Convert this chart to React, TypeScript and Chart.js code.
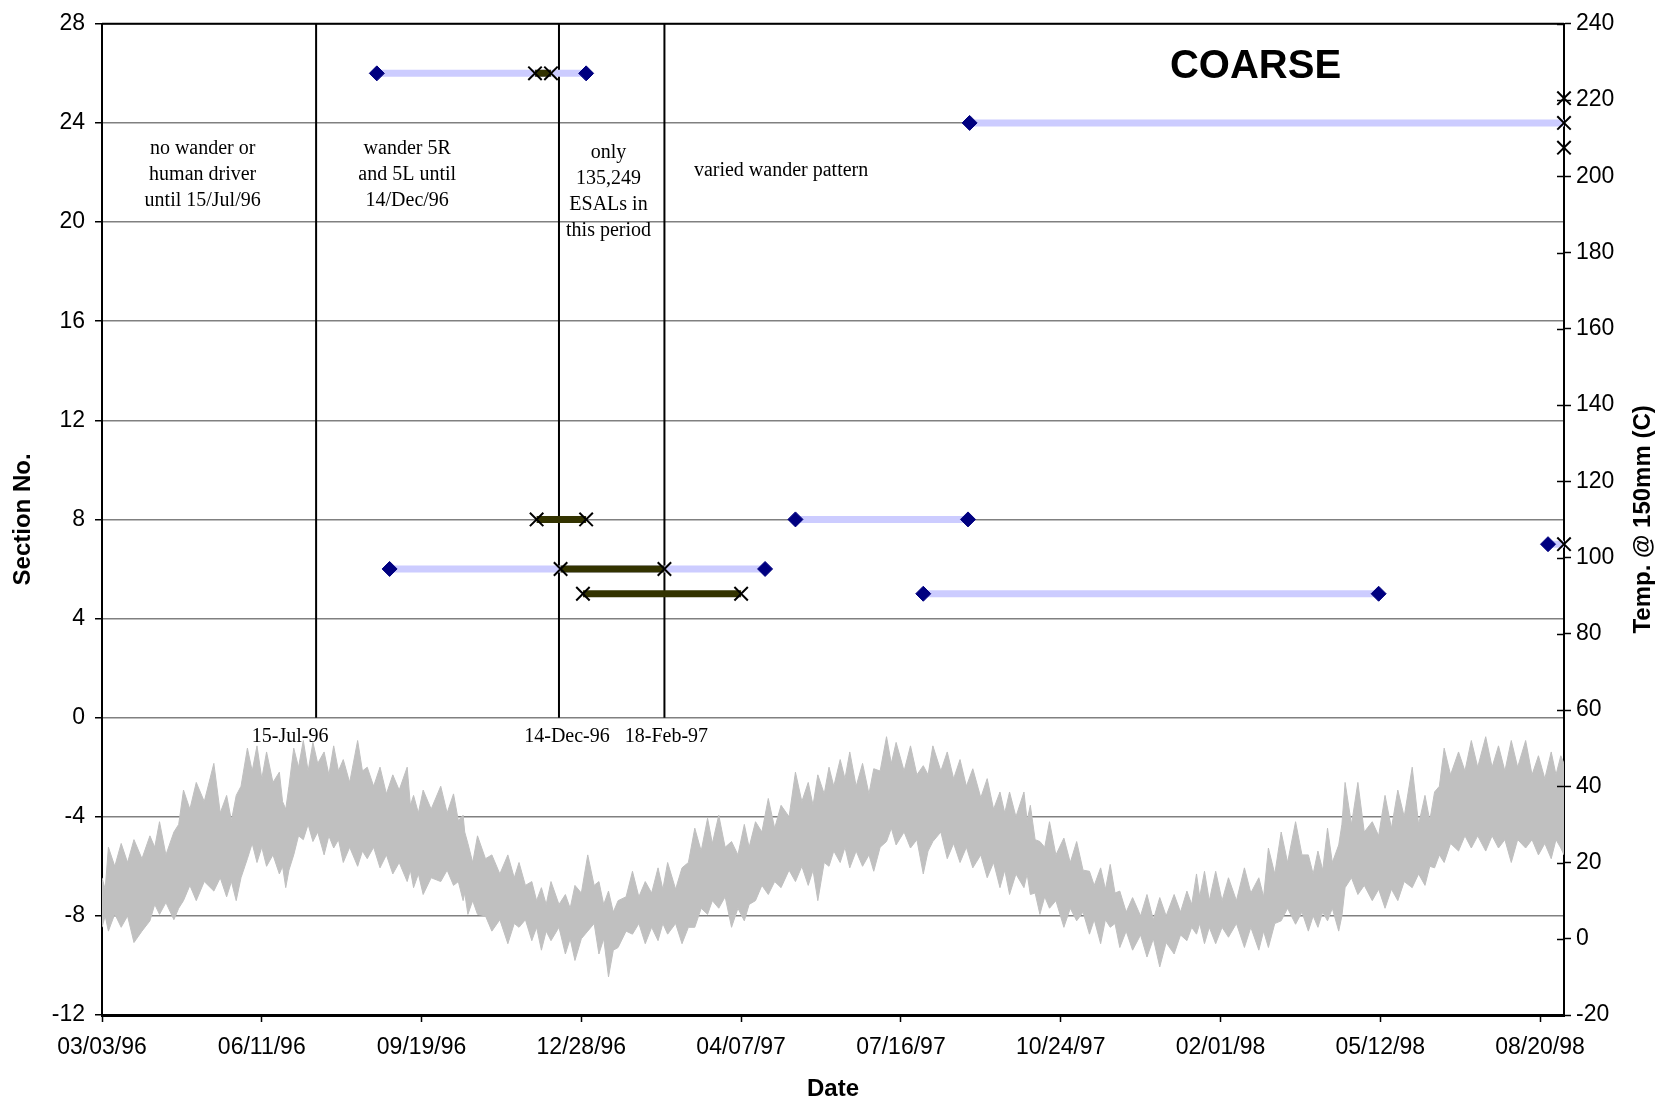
import React, { useEffect, useRef } from 'react';
import { Chart, registerables } from 'chart.js';

Chart.register(...registerables);

// ---------- DATA ----------
const START_DATE = '1996-03-03';
const END_DATE = '1998-09-04';

const xTickLabels = ['03/03/96', '06/11/96', '09/19/96', '12/28/96', '04/07/97', '07/16/97', '10/24/97', '02/01/98', '05/12/98', '08/20/98'];
const xTickStepDays = 100;

const sectionMin = -12;
const sectionMax = 28;
const sectionStep = 4;
const tempMin = -20;
const tempMax = 240;
const tempStep = 20;

// Wander periods (light blue bars)
const wanderSection = [26, 6, 8, 24, 5, 7];
const wanderStart = ['1996-08-22', '1996-08-30', '1997-05-11', '1997-08-28', '1997-07-30', '1998-08-25'];
const wanderEnd = ['1996-12-31', '1997-04-22', '1997-08-27', '1998-09-04', '1998-05-11', '1998-09-04'];

// No-wander periods (dark bars)
const fixedSection = [26, 8, 6, 5];
const fixedStart = ['1996-11-29', '1996-11-30', '1996-12-15', '1996-12-29'];
const fixedEnd = ['1996-12-09', '1996-12-31', '1997-02-18', '1997-04-07'];

// Diamond markers
const diamondSection = [26, 26, 6, 6, 8, 8, 24, 5, 5, 7];
const diamondDate = ['1996-08-22', '1996-12-31', '1996-08-30', '1997-04-22', '1997-05-11', '1997-08-27', '1997-08-28', '1997-07-30', '1998-05-11', '1998-08-25'];

// Cross markers
const crossSection = [26, 26, 8, 8, 6, 6, 5, 5, 25, 24, 23, 7];
const crossDate = ['1996-11-29', '1996-12-09', '1996-11-30', '1996-12-31', '1996-12-15', '1997-02-18', '1996-12-29', '1997-04-07', '1998-09-04', '1998-09-04', '1998-09-04', '1998-09-04'];

// Event lines
const eventDates = ['1996-07-15', '1996-12-14', '1997-02-18'];
const eventLabels = ['15-Jul-96', '14-Dec-96', '18-Feb-97'];

// Notes
const noteDates = ['1996-05-05', '1996-09-10', '1997-01-14', '1997-05-02'];
const noteSections = [22.94, 22.94, 22.78, 22.06];
const noteLines = [
  ['no wander or', 'human driver', 'until 15/Jul/96'],
  ['wander 5R', 'and 5L until', '14/Dec/96'],
  ['only', '135,249', 'ESALs in', 'this period'],
  ['varied wander pattern'],
];

const chartTitle = 'COARSE';
const xTitle = 'Date';
const yTitle = 'Section No.';
const y2Title = 'Temp. @ 150mm (C)';

// Temperature at 150 mm: upper / lower edge of the trace (days since 03/03/96)
const tempDay = [
  0, 2, 4, 8, 12, 16, 20, 25, 30, 33,
  36, 40, 45, 48, 51, 55, 59, 64, 70, 74,
  78, 81, 84, 87, 91, 94, 97, 100, 103, 107,
  111, 113, 115, 117, 120, 123, 126, 129, 132, 135,
  139, 142, 145, 148, 151, 155, 160, 163, 166, 170,
  174, 178, 182, 186, 191, 193, 195, 198, 201, 206,
  212, 216, 220, 223, 226, 227, 229, 232, 235, 240,
  244, 249, 254, 258, 261, 265, 269, 272, 275, 278,
  281, 286, 290, 293, 296, 300, 304, 308, 311, 314,
  317, 320, 323, 328, 332, 336, 340, 344, 348, 351,
  354, 359, 363, 367, 371, 375, 379, 382, 386, 390,
  394, 398, 402, 405, 409, 413, 417, 421, 425, 430,
  434, 438, 442, 445, 448, 452, 455, 458, 462, 465,
  468, 472, 476, 480, 483, 487, 491, 494, 497, 502,
  506, 510, 514, 517, 520, 525, 529, 533, 537, 541,
  545, 550, 554, 558, 562, 565, 568, 572, 577, 579,
  581, 584, 587, 590, 593, 597, 602, 606, 610, 614,
  618, 621, 625, 628, 631, 634, 637, 641, 645, 650,
  654, 658, 662, 666, 671, 675, 679, 682, 685, 687,
  690, 693, 697, 701, 705, 710, 715, 719, 724, 727,
  730, 734, 738, 742, 747, 751, 755, 758, 761, 764,
  767, 770, 774, 776, 778, 782, 786, 790, 795, 799,
  803, 807, 811, 815, 820, 824, 828, 831, 834, 837,
  840, 844, 849, 853, 857, 861, 866, 870, 874, 878,
  882, 886, 891, 895, 899, 903, 907, 910, 913, 915,
];
const tempHigh = [
  16, 13, 24, 19, 25, 20, 26, 21, 27, 24,
  30.7, 22, 28, 30, 39, 34, 41, 36, 46, 33,
  37.6, 31, 37.6, 40, 50, 44, 50.6, 42, 49, 41,
  43.7, 36, 34, 40, 50, 45, 52, 44, 51.5, 46,
  49, 43, 50.6, 44, 47, 41, 52, 44, 45, 40,
  45, 38, 43, 39, 45, 35, 37.6, 33, 39, 34,
  40, 33, 38, 31, 32.4, 28, 25, 20, 27, 21,
  22, 17, 22, 16, 20, 14, 15, 10, 13.4, 9,
  15, 9, 11.6, 8, 14, 12, 22, 14, 15, 9,
  12.5, 7, 10, 11, 17.7, 11, 15, 12, 18.6, 13,
  20, 13, 18.6, 20, 29, 23, 31.6, 25, 32.4, 24,
  25.5, 22, 30, 24, 30.7, 28, 36.8, 29, 35, 32,
  43.7, 36, 41, 35, 43, 38, 45, 40, 47, 42,
  49, 40, 46, 38, 44.6, 44, 53, 46, 51.5, 44,
  50.6, 43, 45.4, 43, 50.6, 44, 49, 42, 47, 40,
  44.6, 37, 42, 34, 38.5, 33, 38.5, 32, 38.5, 31,
  35, 26, 25.5, 24, 30.7, 22, 26.4, 20, 25.5, 18,
  17.7, 14, 18.6, 13, 19.5, 12, 12.5, 7, 10.8, 6,
  11.6, 5, 10.8, 6, 11.6, 7, 12.5, 9, 17, 11,
  17.7, 10, 17.7, 10, 16, 10, 18.6, 12, 16, 11,
  23.8, 17, 28, 20, 30.7, 22, 22, 17, 23, 18,
  29, 20, 24.6, 30, 41, 30, 41, 28, 30.7, 27,
  37.6, 29, 39, 32, 45, 30, 37.6, 31, 38.5, 40,
  50, 43, 49, 44, 52, 45, 53, 45, 50.6, 44,
  52, 45, 52, 43, 48, 42, 49, 43, 48, 46,
];
const tempLow = [
  3, 6, 2, 6.5, 3, 6, -1, 2, 4.7, 9,
  6.4, 9.5, 5, 8, 10, 14, 10, 15, 12.5, 16,
  11, 15, 10, 16, 21, 25, 20, 24, 19, 22,
  17, 19, 13.4, 18, 22, 27, 26, 30, 25.5, 28,
  22, 27, 23.8, 26, 20, 24, 19, 23, 21, 24,
  18.6, 22, 17, 20, 15, 18, 13.4, 17, 11.6, 16,
  15, 18, 14, 15, 10, 12, 6.4, 10, 6.4, 6,
  2, 5, -1.3, 4, 3, 5, -0.5, 3, -3, 2,
  -0.5, 3, -4, 0, -5.7, 0, 2, 4, -4, 0,
  -10, -3, -2.3, 2, 1.2, 4, -1.3, 3, -0.5, 4,
  1.2, 4, -1.3, 3, 3, 8, 6.4, 10, 8, 11,
  3, 8, 4.7, 9, 10, 14, 11.6, 15, 13.4, 18,
  15, 19, 14, 18, 10, 20, 19, 23, 20, 24,
  18.6, 23, 19, 22, 17.7, 24, 25.5, 29, 24.6, 28,
  23.8, 26, 17, 23, 25.5, 28, 21, 25, 20, 24,
  18.6, 22, 16, 20, 13.4, 18, 11.6, 17, 13.4, 17,
  11.6, 12, 6.4, 11, 8, 10, 3, 8, 4.7, 7,
  1.2, 5, -1.3, 5, 3, 4, -2.3, 2, -3, 1,
  -4.8, 0, -7.4, -1, -4, 1, -0.5, 3, 1.2, 4,
  -1.3, 3, -1.3, 3, 0.4, 4, -2.3, 3, -3, 2,
  -2.3, 4, 4.7, 8, 3.8, 7, 2, 6, 3, 7,
  4.7, 8, 2, 6, 13.4, 16, 11.6, 14, 10, 13,
  8, 13, 10, 15, 13.4, 17, 14, 19, 18.6, 22,
  20, 25, 23, 27, 23.8, 27, 23, 27, 23.8, 26,
  20, 26, 23.8, 26, 22, 25, 21, 26, 23.8, 22,
];

// ---------- HELPERS ----------
const MS_DAY = 86400000;
const toUTC = (s: string) => {
  const [y, m, d] = s.split('-').map(Number);
  return Date.UTC(y, m - 1, d);
};
const dayOf = (s: string) => Math.round((toUTC(s) - toUTC(START_DATE)) / MS_DAY);

const SERIF = '"Liberation Serif", "Times New Roman", serif';
const SANS = '"Liberation Sans", Arial, sans-serif';
const TICK_SIZE = 23;

const overlayPlugin = {
  id: 'overlay',
  afterDraw(chart: any) {
    const { ctx, chartArea, scales } = chart;
    const xs = scales.x;
    const ys = scales.y;
    const y2 = scales.y2;
    ctx.save();
    // top border
    ctx.strokeStyle = '#000';
    ctx.lineWidth = 2;
    ctx.beginPath();
    ctx.moveTo(chartArea.left, chartArea.top);
    ctx.lineTo(chartArea.right, chartArea.top);
    ctx.stroke();
    // inner ticks of right axis
    ctx.lineWidth = 1.5;
    y2.ticks.forEach((t: any) => {
      const py = Math.round(y2.getPixelForValue(t.value)) + 0.5;
      ctx.beginPath();
      ctx.moveTo(chartArea.right - 7, py);
      ctx.lineTo(chartArea.right, py);
      ctx.stroke();
    });

    ctx.fillStyle = '#000';
    ctx.textAlign = 'center';
    ctx.textBaseline = 'middle';
    // notes
    ctx.font = `20px ${SERIF}`;
    noteLines.forEach((lines, i) => {
      const px = xs.getPixelForValue(dayOf(noteDates[i]));
      const py = ys.getPixelForValue(noteSections[i]);
      lines.forEach((l, j) => ctx.fillText(l, px, py + j * 26));
    });
    // event labels
    const labelOffsets = [-26, 8, 2];
    eventLabels.forEach((l, i) => {
      const px = xs.getPixelForValue(dayOf(eventDates[i])) + labelOffsets[i];
      const py = ys.getPixelForValue(0) + 19;
      ctx.fillText(l, px, py);
    });
    // chart title
    ctx.font = `bold 40px ${SANS}`;
    ctx.fillText(chartTitle, chartArea.left + (chartArea.right - chartArea.left) * 0.789, chartArea.top + 43);
    // axis titles
    ctx.font = `bold 24px ${SANS}`;
    ctx.fillText(xTitle, (chartArea.left + chartArea.right) / 2, chartArea.bottom + 74);
    const midY = (chartArea.top + chartArea.bottom) / 2;
    ctx.save();
    ctx.translate(23.5, midY);
    ctx.rotate(-Math.PI / 2);
    ctx.fillText(yTitle, 0, 0);
    ctx.restore();
    ctx.save();
    ctx.translate(chart.width - 23.5, midY);
    ctx.rotate(-Math.PI / 2);
    ctx.fillText(y2Title, 0, 0);
    ctx.restore();
    ctx.restore();
  },
};

export default function App() {
  const canvasRef = useRef<HTMLCanvasElement | null>(null);

  useEffect(() => {
    if (!canvasRef.current) return;
    const endDay = dayOf(END_DATE);
    const n = Math.min(tempDay.length, tempHigh.length, tempLow.length);

    const datasets: any[] = [];

    // temperature trace (filled between upper and lower edge)
    datasets.push({
      label: 'Temp high',
      data: tempDay.slice(0, n).map((d, i) => ({ x: d, y: tempHigh[i] })),
      yAxisID: 'y2',
      borderColor: '#C0C0C0',
      backgroundColor: '#C0C0C0',
      borderWidth: 1,
      pointRadius: 0,
      fill: '+1',
      order: 20,
    });
    datasets.push({
      label: 'Temp low',
      data: tempDay.slice(0, n).map((d, i) => ({ x: d, y: tempLow[i] })),
      yAxisID: 'y2',
      borderColor: '#C0C0C0',
      backgroundColor: '#C0C0C0',
      borderWidth: 1,
      pointRadius: 0,
      fill: false,
      order: 21,
    });

    eventDates.forEach((d) => {
      datasets.push({
        data: [{ x: dayOf(d), y: 0 }, { x: dayOf(d), y: sectionMax }],
        yAxisID: 'y',
        borderColor: '#000',
        borderWidth: 2,
        pointRadius: 0,
        fill: false,
        order: 10,
      });
    });

    wanderSection.forEach((s, i) => {
      datasets.push({
        data: [{ x: dayOf(wanderStart[i]), y: s }, { x: dayOf(wanderEnd[i]), y: s }],
        yAxisID: 'y',
        borderColor: '#CCCCFF',
        borderWidth: 7,
        borderCapStyle: 'butt',
        pointRadius: 0,
        fill: false,
        order: 8,
        clip: false,
      });
    });

    fixedSection.forEach((s, i) => {
      datasets.push({
        data: [{ x: dayOf(fixedStart[i]), y: s }, { x: dayOf(fixedEnd[i]), y: s }],
        yAxisID: 'y',
        borderColor: '#333300',
        borderWidth: 7,
        borderCapStyle: 'butt',
        pointRadius: 0,
        fill: false,
        order: 6,
      });
    });

    datasets.push({
      data: diamondDate.map((d, i) => ({ x: dayOf(d), y: diamondSection[i] })),
      yAxisID: 'y',
      showLine: false,
      pointStyle: 'rectRot',
      pointRadius: 7.5,
      backgroundColor: '#000080',
      borderColor: '#000080',
      borderWidth: 1,
      order: 4,
      clip: false,
    });

    datasets.push({
      data: crossDate.map((d, i) => ({ x: dayOf(d), y: crossSection[i] })),
      yAxisID: 'y',
      showLine: false,
      pointStyle: 'crossRot',
      pointRadius: 9.5,
      borderColor: '#000',
      backgroundColor: '#000',
      borderWidth: 2,
      order: 2,
      clip: false,
    });

    const chart = new Chart(canvasRef.current, {
      type: 'line',
      data: { datasets },
      plugins: [overlayPlugin],
      options: {
        responsive: false,
        animation: false,
        events: [],
        layout: { padding: { top: 19, left: 0, right: 0, bottom: 0 } },
        plugins: { legend: { display: false }, tooltip: { enabled: false } },
        scales: {
          x: {
            type: 'linear',
            min: 0,
            max: endDay,
            afterBuildTicks: (scale: any) => {
              scale.ticks = xTickLabels.map((_, i) => ({ value: i * xTickStepDays }));
            },
            afterFit: (scale: any) => {
              scale.height = 88;
            },
            ticks: {
              callback: (v: any) => xTickLabels[Math.round(Number(v) / xTickStepDays)] ?? '',
              font: { family: SANS, size: TICK_SIZE },
              color: '#000',
              padding: 12,
              maxRotation: 0,
              autoSkip: false,
            },
            grid: { drawOnChartArea: false, drawTicks: true, tickLength: 7, tickColor: '#000', tickWidth: 1.5 },
            border: { display: true, color: '#000', width: 3 },
          },
          y: {
            type: 'linear',
            position: 'left',
            min: sectionMin,
            max: sectionMax,
            afterFit: (scale: any) => {
              scale.width = 102;
            },
            ticks: {
              stepSize: sectionStep,
              font: { family: SANS, size: TICK_SIZE },
              color: '#000',
              padding: 10,
            },
            grid: { color: '#808080', lineWidth: 1.5, tickLength: 7, tickColor: '#000', tickWidth: 1.5 },
            border: { display: true, color: '#000', width: 2 },
          },
          y2: {
            type: 'linear',
            position: 'right',
            min: tempMin,
            max: tempMax,
            afterFit: (scale: any) => {
              scale.width = 103;
            },
            ticks: {
              stepSize: tempStep,
              font: { family: SANS, size: TICK_SIZE },
              color: '#000',
              padding: 5,
            },
            grid: { drawOnChartArea: false, tickLength: 7, tickColor: '#000', tickWidth: 1.5 },
            border: { display: true, color: '#000', width: 2 },
          },
        },
      } as any,
    });
    return () => chart.destroy();
  }, []);

  return (
    <div style={{ position: 'fixed', left: 0, top: 0, width: 1667, height: 1103, background: '#fff' }}>
      <canvas ref={canvasRef} width={1667} height={1103} style={{ display: 'block' }} />
    </div>
  );
}
